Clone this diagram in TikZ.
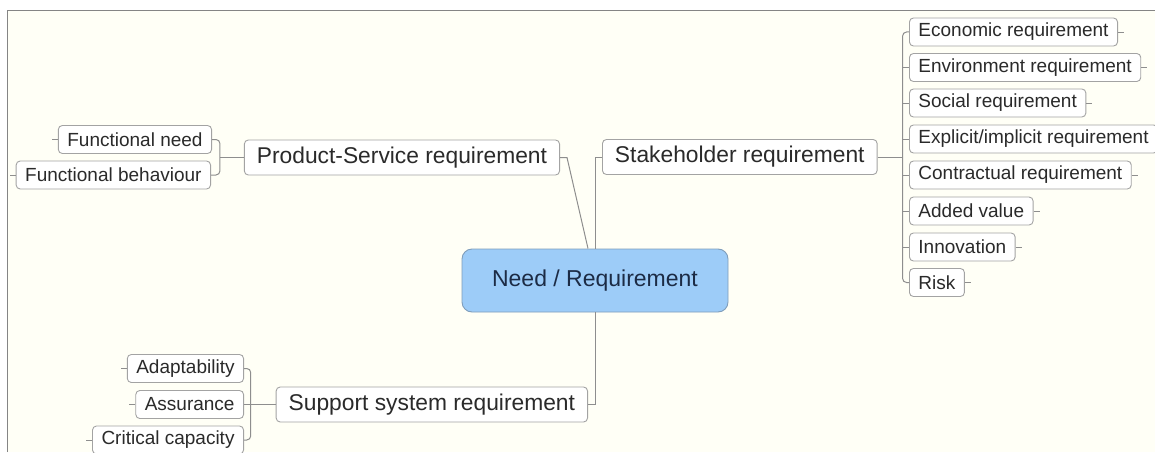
\documentclass[tikz,border=0pt]{standalone}
\usepackage{fontspec}
\setmainfont{Liberation Sans}
\definecolor{paper}{HTML}{FFFFF6}
\definecolor{framegray}{HTML}{858585}
\definecolor{boxedge}{HTML}{A3A3A3}
\definecolor{linkgray}{HTML}{8E8E8E}
\definecolor{txt}{HTML}{2A2A2A}
\definecolor{hubfill}{HTML}{9DCCF8}
\definecolor{hubedge}{HTML}{7F9DBA}
\definecolor{hubtxt}{HTML}{1C2B45}
\newcommand{\leaffont}{\fontsize{19}{22}\selectfont}
\newcommand{\branchfont}{\fontsize{22.8}{26}\selectfont}
\newcommand{\hubfont}{\fontsize{23}{26}\selectfont}
\begin{document}
\begin{tikzpicture}[x=1pt,y=-1pt,
  leaf/.style={draw=boxedge, fill=white, rounded corners=4pt, line width=0.9pt,
    inner xsep=9pt, inner ysep=0pt, minimum height=28pt, font=\leaffont, text=txt},
  branch/.style={draw=boxedge, fill=white, rounded corners=4pt, line width=0.9pt,
    inner xsep=12.5pt, inner ysep=0pt, minimum height=35pt, font=\branchfont, text=txt},
  hub/.style={draw=hubedge, fill=hubfill, rounded corners=10pt, line width=0.9pt,
    minimum width=266pt, minimum height=63pt, font=\hubfont, text=hubtxt},
  link/.style={draw=linkgray, line width=1pt},
  stub/.style={draw=linkgray, line width=0.8pt}]
\useasboundingbox (0,0) rectangle (1155,452);
\clip (0,0) rectangle (1155,452);
% sheet and its frame
\fill[white] (0,0) rectangle (1155,452);
\fill[paper] (7.5,10.5) rectangle (1155,452);
\draw[framegray, line width=1pt] (7.5,452) -- (7.5,10.5) -- (1155,10.5);

% central topic
\node[hub] (hub) at (595,280.5) {Need / Requirement};

% main branches
\node[branch, anchor=east] (ps) at (560,157.5) {Product-Service requirement};
\node[branch, anchor=west] (sh) at (602,157) {Stakeholder requirement};
\node[branch, anchor=east] (ss) at (588,404.5) {Support system requirement};

% product-service leaves
\node[leaf, anchor=east] (fn) at (212,139.5) {Functional need};
\node[leaf, anchor=east] (fb) at (211,175) {Functional behaviour};

% support system leaves
\node[leaf, anchor=east] (ad) at (244,368.5) {Adaptability};
\node[leaf, anchor=east] (as) at (244,404.5) {Assurance};
\node[leaf, anchor=east] (cc) at (244,440) {Critical capacity};

% stakeholder leaves
\node[leaf, anchor=west] (s1) at (909,32) {Economic requirement};
\node[leaf, anchor=west] (s2) at (909,67.5) {Environment requirement};
\node[leaf, anchor=west] (s3) at (909,103) {Social requirement};
\node[leaf, anchor=west] (s4) at (909,139) {Explicit/implicit requirement};
\node[leaf, anchor=west] (s5) at (909,175) {Contractual requirement};
\node[leaf, anchor=west] (s6) at (909,211) {Added value};
\node[leaf, anchor=west] (s7) at (909,247) {Innovation};
\node[leaf, anchor=west] (s8) at (909,282.5) {Risk};

% central topic to main branches
\draw[link] ([xshift=-7pt]hub.north) -- ([xshift=7pt]ps.east) -- (ps.east);
\draw[link] (hub.north) -- (hub.north |- sh.west) -- (sh.west);
\draw[link] (hub.south) -- (hub.south |- ss.east) -- (ss.east);

% product-service bracket
\draw[link] (ps.west) -- ++(-24,0) coordinate (psb);
\draw[link, rounded corners=4pt] (fn.east) -- (fn.east -| psb) -- (fb.east -| psb) -- (fb.east);

% support system bracket
\draw[link] (ss.west) -- ++(-25,0) coordinate (ssb);
\draw[link, rounded corners=4pt] (ad.east) -- (ad.east -| ssb) -- (cc.east -| ssb) -- (cc.east);
\draw[link] (as.east) -- (as.east -| ssb);

% stakeholder spine
\draw[link] (sh.east) -- ++(25,0) coordinate (shb);
\draw[link, rounded corners=4pt] (s1.west) -- (s1.west -| shb) -- (s8.west -| shb) -- (s8.west);
\foreach \n in {s2,s3,s4,s5,s6,s7}
  \draw[link] (\n.west -| shb) -- (\n.west);

% outer stubs of the leaves
\foreach \n in {fn,fb,ad,as,cc}
  \draw[stub] (\n.west) -- ++(-6,0);
\foreach \n in {s1,s2,s3,s4,s5,s6,s7,s8}
  \draw[stub] (\n.east) -- ++(6,0);
\end{tikzpicture}
\end{document}
